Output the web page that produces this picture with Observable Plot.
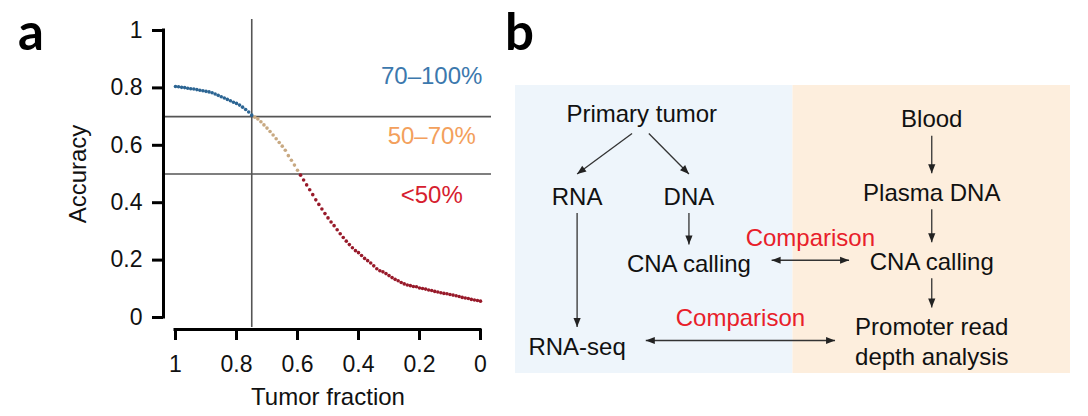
<!DOCTYPE html>
<html>
<head>
<meta charset="utf-8">
<script src="https://cdn.jsdelivr.net/npm/d3@7"></script>
<script src="https://cdn.jsdelivr.net/npm/@observablehq/plot@0.6"></script>
<style>
  html, body { margin: 0; padding: 0; background: #fff; }
  #wrap { position: relative; width: 1088px; height: 416px; display: flex; overflow: hidden; }
  .letter { position: absolute; font-family: Lato, "Open Sans", sans-serif; font-weight: 700; font-size: 51px; line-height: 51px; color: #000; }
  svg { display: block; }
</style>
</head>
<body>
<div id="wrap">
  <div class="letter" style="left:18px; top:5px;">a</div>
  <div class="letter" style="left:505px; top:5px;">b</div>
</div>
<script>
// ---------- Panel a data ----------
const tumorFraction = d3.range(100, -1, -1).map(i => i / 100); // 1.00 ... 0.00 (sampling grid of the figure)
const accuracy = [
  0.805, 0.804, 0.802, 0.801, 0.799, 0.797, 0.796, 0.794, 0.792, 0.790,
  0.788, 0.786, 0.783, 0.779, 0.774, 0.769, 0.765, 0.760, 0.755, 0.750,
  0.746, 0.740, 0.733, 0.725, 0.716, 0.705, 0.698, 0.692, 0.682, 0.671,
  0.660, 0.648, 0.636, 0.623, 0.610, 0.597, 0.583, 0.564, 0.548, 0.531,
  0.513, 0.496, 0.479, 0.462, 0.445, 0.428, 0.410, 0.394, 0.378, 0.362,
  0.347, 0.333, 0.320, 0.306, 0.292, 0.279, 0.266, 0.254, 0.243, 0.233,
  0.226, 0.216, 0.206, 0.198, 0.190, 0.180, 0.170, 0.163, 0.159, 0.153,
  0.146, 0.139, 0.133, 0.128, 0.122, 0.117, 0.113, 0.111, 0.108, 0.107,
  0.103, 0.101, 0.099, 0.096, 0.094, 0.091, 0.089, 0.086, 0.084, 0.083,
  0.080, 0.078, 0.076, 0.073, 0.070, 0.068, 0.066, 0.063, 0.061, 0.059,
  0.057
];
const xTicks = [1, 0.8, 0.6, 0.4, 0.2, 0];
const yTicks = [0, 0.2, 0.4, 0.6, 0.8, 1];
const accuracyThresholds = [0.7, 0.5];
const fractionCutoff = [0.75];
const zoneNames = ["70–100%", "50–70%", "<50%"];
const zoneLabelY = [0.84, 0.63, 0.425];
const zoneLabelX = [0.16, 0.16, 0.16];

const zoneDotColors = ["#2c6593", "#c8a982", "#981a2a"];
const zoneTextColors = ["#3c78ad", "#f3a05c", "#d6202e"];
const zoneOf = v => v >= 0.7 ? 0 : v >= 0.5 ? 1 : 2;

const curve = tumorFraction.map((x, i) => ({x, y: accuracy[i], zone: zoneOf(accuracy[i])}));
const zoneLabels = zoneNames.map((name, i) => ({name, x: zoneLabelX[i], y: zoneLabelY[i], i}));

const fontFam = "'Liberation Sans', Arial, Helvetica, sans-serif";

const chartA = Plot.plot({
  width: 500, height: 416,
  marginLeft: 175, marginRight: 20, marginTop: 30, marginBottom: 99,
  style: {fontFamily: fontFam, fontSize: "23px", color: "#111", background: "transparent", overflow: "visible"},
  x: {domain: [1, 0]},
  y: {domain: [0, 1]},
  marks: [
    Plot.ruleY(accuracyThresholds, {stroke: "#555", strokeWidth: 1.6, insetLeft: -12, insetRight: -11}),
    Plot.ruleX(fractionCutoff, {stroke: "#555", strokeWidth: 1.6, insetTop: -11, insetBottom: -10}),
    Plot.dot(curve, {x: "x", y: "y", r: 1.8, stroke: "none", fill: d => zoneDotColors[d.zone]}),
    Plot.text(zoneLabels, {x: "x", y: "y", text: "name", fill: d => zoneTextColors[d.i], fontSize: 24, textAnchor: "middle", lineAnchor: "middle"}),
    // axis lines (detached from frame)
    Plot.ruleX([1], {dx: -12, stroke: "#000", strokeWidth: 3, insetTop: -1.5, insetBottom: -1.5}),
    Plot.ruleY([0], {dy: 12, stroke: "#000", strokeWidth: 3, insetLeft: -1.5, insetRight: -1.5}),
    Plot.axisY({ticks: yTicks, tickFormat: d => String(d), tickSize: 11, tickPadding: 10, dx: -12, strokeWidth: 3, stroke: "#000", label: null, fontSize: 23}),
    Plot.axisX({ticks: xTicks, tickFormat: d => String(d), tickSize: 11, tickPadding: 15, dy: 12, strokeWidth: 3, stroke: "#000", label: null, fontSize: 23}),
    Plot.text(["Accuracy"], {frameAnchor: "left", rotate: -90, dx: -97, fontSize: 24, textAnchor: "middle", lineAnchor: "middle", fill: "#111"}),
    Plot.text(["Tumor fraction"], {frameAnchor: "bottom", dy: 80, fontSize: 24, textAnchor: "middle", lineAnchor: "middle", fill: "#111"})
  ]
});

// ---------- Panel b data ----------
const laneNames = ["Primary tumor", "Blood"];
const laneFills = ["#eef5fb", "#fdeedd"];
const nodeIds = ["primary", "rna", "dna", "cnaL", "rnaseq", "blood", "plasma", "cnaR", "promoter"];
const nodeLabels = ["Primary tumor", "RNA", "DNA", "CNA calling", "RNA-seq", "Blood", "Plasma DNA", "CNA calling", "Promoter read\ndepth analysis"];
const nodeLane = [0.455, 0.222, 0.625, 0.625, 0.222, 1.5, 1.5, 1.5, 1.5];
const nodeStep = [0, 1.1, 1.1, 2.0, 3.1, 0.07, 1.05, 1.97, 3.04];
const edgeFrom = ["primary", "primary", "rna", "dna", "blood", "plasma", "cnaR", "cnaL", "rnaseq"];
const edgeTo   = ["rna", "dna", "rnaseq", "cnaL", "plasma", "cnaR", "promoter", "cnaR", "promoter"];
const edgeBoth = [false, false, false, false, false, false, false, true, true];
const edgeLabel = ["", "", "", "", "", "", "", "Comparison", "Comparison"];

const bX = {domain: [0, 2], range: [15, 570]};
const bY = {domain: [0, 3], range: [112, 337]};
const sx = d3.scaleLinear(bX.domain, bX.range);
const sy = d3.scaleLinear(bY.domain, bY.range);
const ctx = document.createElement("canvas").getContext("2d");
ctx.font = "24px 'Liberation Sans'";

const nodes = nodeIds.map((id, i) => {
  const lines = nodeLabels[i].split("\n");
  return {id, label: nodeLabels[i], x: nodeLane[i], y: nodeStep[i],
          halfW: d3.max(lines, l => ctx.measureText(l).width) / 2,
          halfH: 8 + 15 * (lines.length - 1)};
});
const byId = new Map(nodes.map(n => [n.id, n]));

const segs = edgeFrom.map((f, i) => {
  const a = byId.get(f), b = byId.get(edgeTo[i]);
  const ax = sx(a.x), ay = sy(a.y), bx = sx(b.x), by = sy(b.y);
  let p1, p2;
  if (Math.abs(by - ay) > Math.abs(bx - ax)) {
    const gap = Math.abs(bx - ax) < 1 ? 10 : 13;
    p1 = [ax + 0.15 * (bx - ax), ay + a.halfH + gap];
    p2 = [bx, by - b.halfH - gap];
  } else {
    p1 = [ax + a.halfW + 20, by];
    p2 = [bx - b.halfW - 20, by];
  }
  const angle = Math.atan2(p2[0] - p1[0], -(p2[1] - p1[1])) * 180 / Math.PI;
  return {x1: sx.invert(p1[0]), y1: sy.invert(p1[1]), x2: sx.invert(p2[0]), y2: sy.invert(p2[1]),
          angle, both: edgeBoth[i], label: edgeLabel[i]};
});
const heads = [];
segs.forEach(s => {
  heads.push({x: s.x2, y: s.y2, angle: s.angle});
  if (s.both) heads.push({x: s.x1, y: s.y1, angle: s.angle + 180});
});
const edgeLabels = segs.filter(s => s.label).map(s => ({x: (s.x1 + s.x2) / 2, y: s.y1, label: s.label}));
const lanes = laneNames.map((name, i) => ({name, x1: i, x2: i + 1, i}));

const chartB = Plot.plot({
  width: 588, height: 416,
  marginLeft: 15, marginRight: 18, marginTop: 85, marginBottom: 43,
  style: {fontFamily: fontFam, fontSize: "24px", color: "#111", background: "transparent", overflow: "visible"},
  x: {domain: bX.domain, axis: null},
  y: {domain: bY.domain, range: bY.range, axis: null},
  marks: [
    Plot.rect(lanes, {x1: "x1", x2: "x2", fill: d => laneFills[d.i]}),
    Plot.link(segs, {x1: "x1", y1: "y1", x2: "x2", y2: "y2", stroke: "#333", strokeWidth: 1.3}),
    Plot.vector(heads, {x: "x", y: "y", rotate: "angle", length: 9, r: 3.6, anchor: "end", shape: "spike", fill: "#222", stroke: "none"}),
    Plot.text(nodes, {x: "x", y: "y", text: "label", fontSize: 24, lineHeight: 1.25, textAnchor: "middle", lineAnchor: "middle", fill: "#111"}),
    Plot.text(edgeLabels, {x: "x", y: "y", text: "label", fontSize: 24, dy: -22, textAnchor: "middle", lineAnchor: "middle", fill: "#e8202a"})
  ]
});

const wrap = document.getElementById("wrap");
wrap.insertBefore(chartA, wrap.firstChild);
wrap.insertBefore(chartB, chartA.nextSibling);
</script>
</body>
</html>
